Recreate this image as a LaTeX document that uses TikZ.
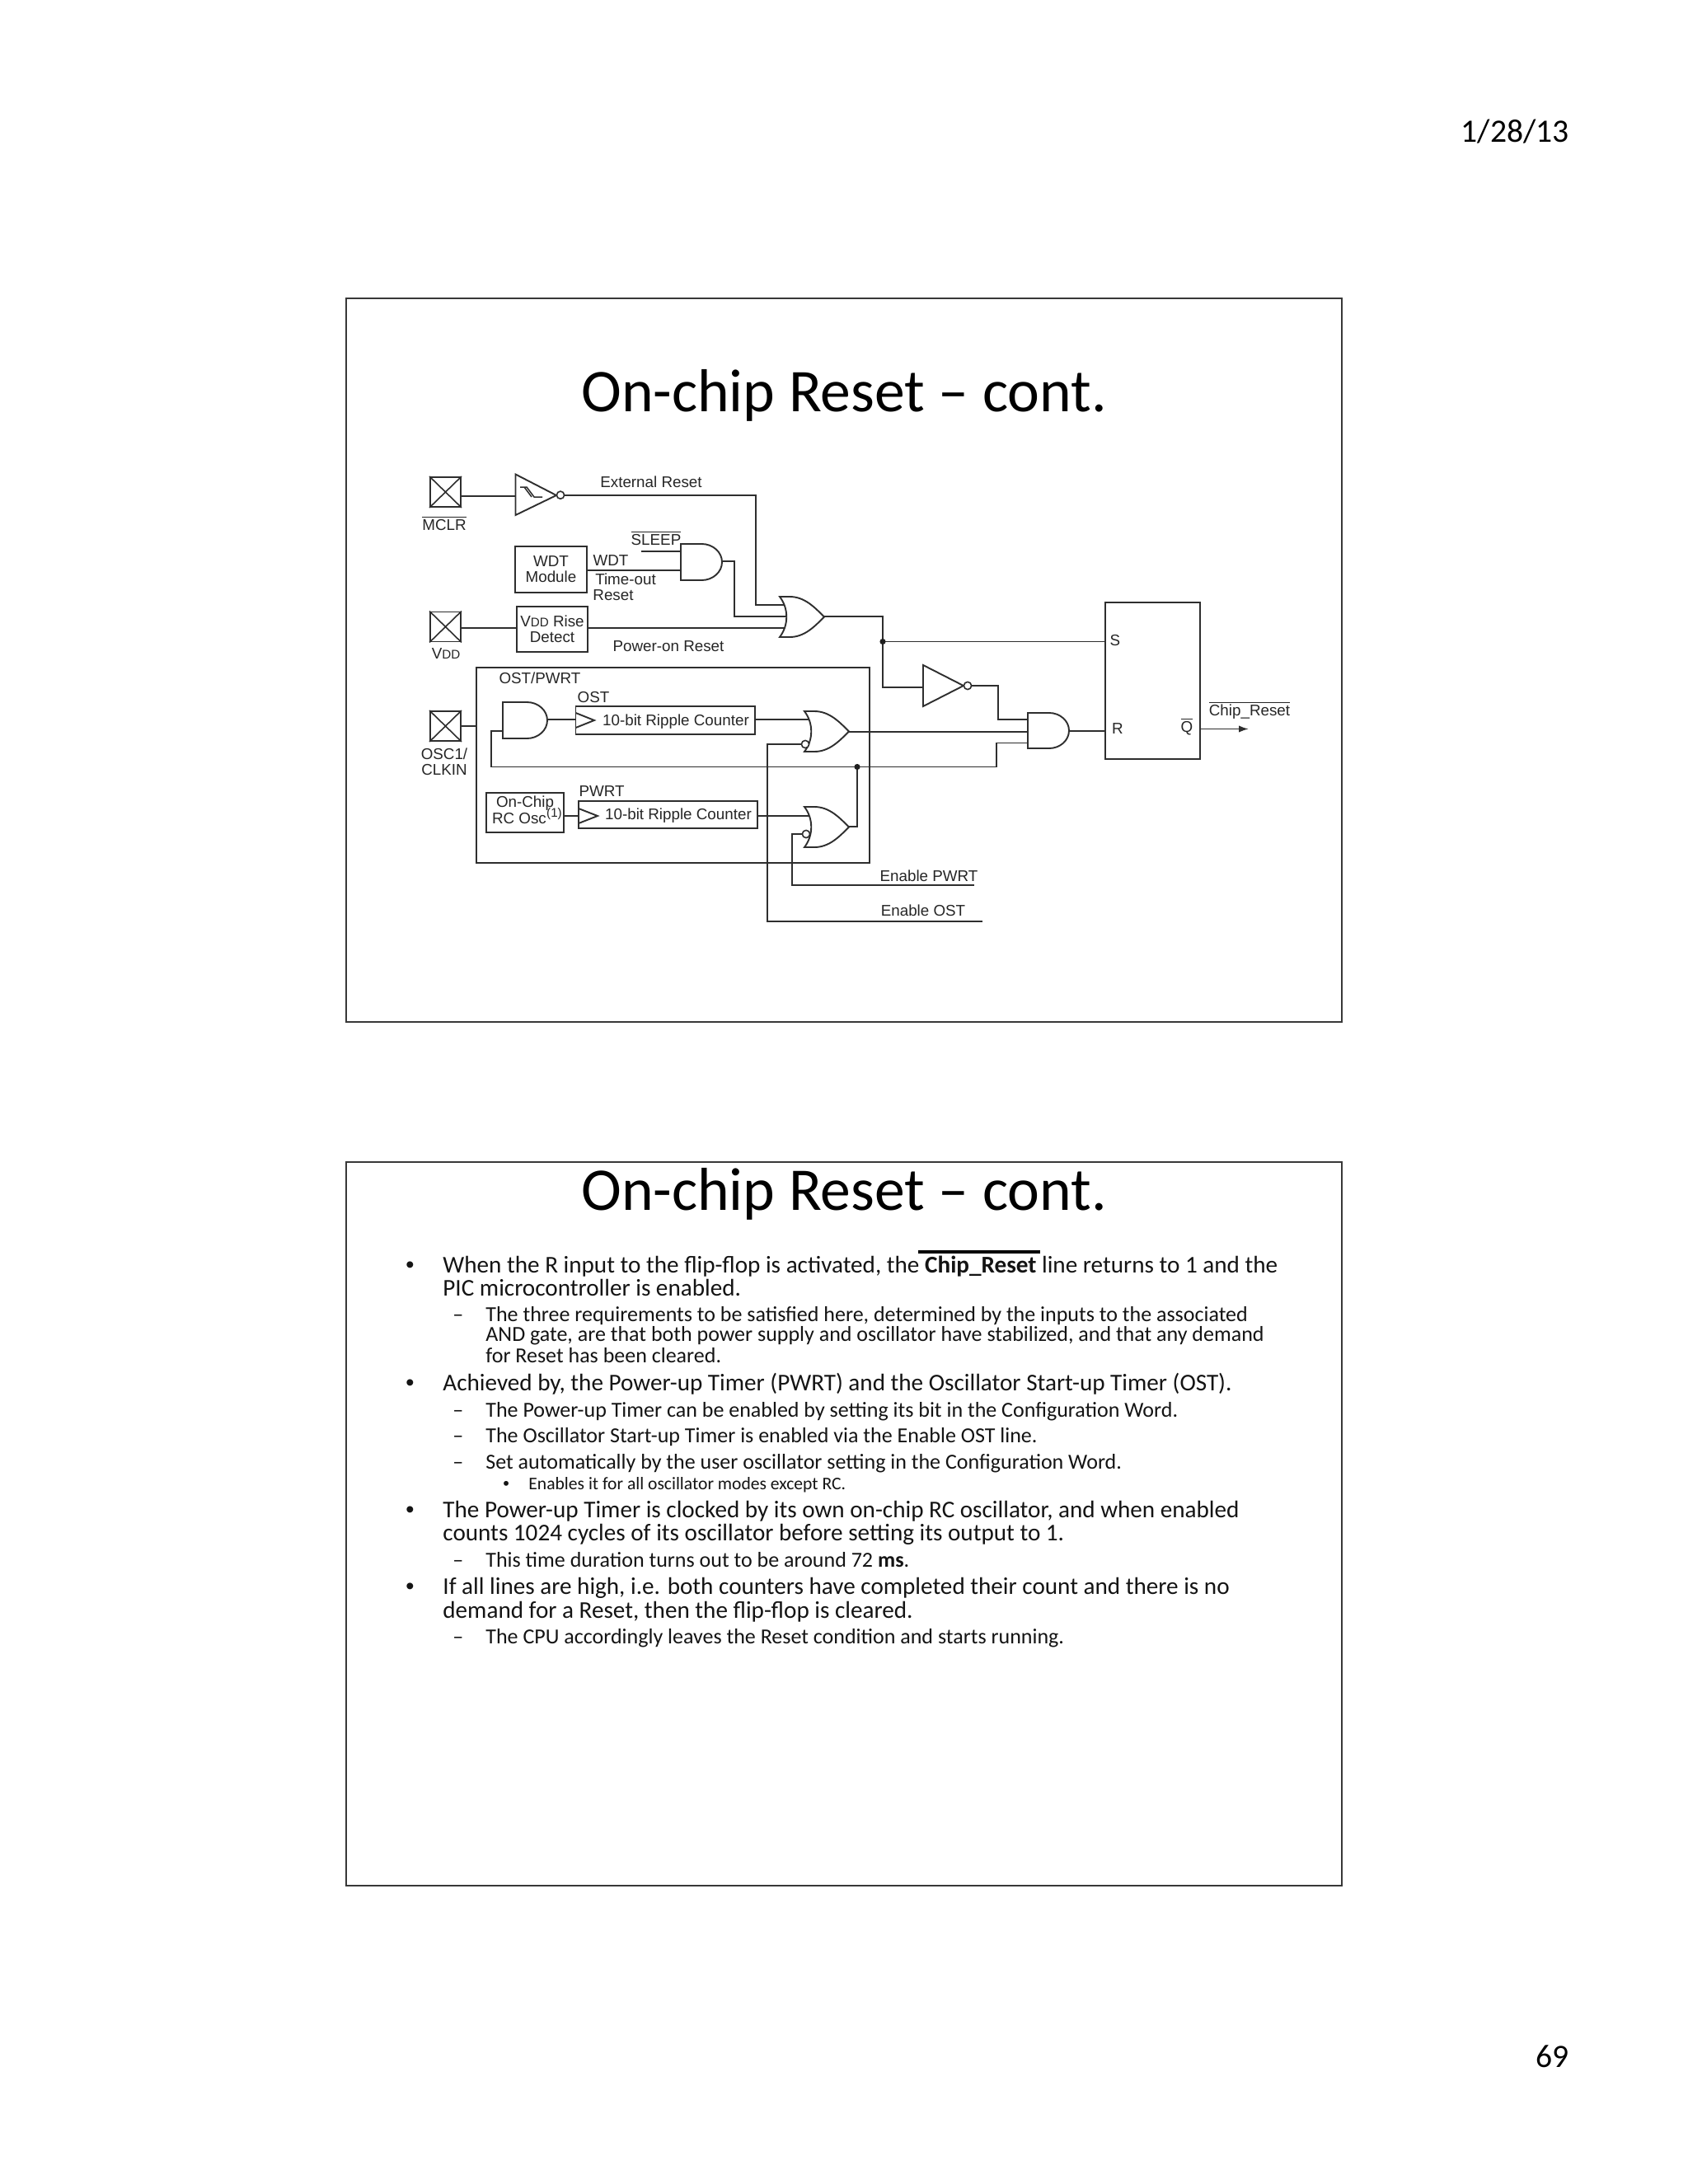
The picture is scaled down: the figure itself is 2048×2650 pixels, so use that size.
\documentclass[tikz,border=0pt]{standalone}
\usetikzlibrary{arrows.meta}
\usepackage{fontspec}
\setmainfont{Carlito}
\newfontfamily\hv{Liberation Sans}
\newcommand{\ovl}[1]{\ensuremath{\overline{\mbox{#1}}}}
\newcommand{\andgate}[4]{% x, ytop, ybot, xtip
  \pgfmathsetmacro{\ym}{(#2+#3)/2}\pgfmathsetmacro{\ry}{(#3-#2)/2}\pgfmathsetmacro{\xf}{#4-(#3-#2)*0.56}
  \draw[gate] (#1,#2) -- (\xf,#2) .. controls ({\xf+0.55*(#4-\xf)},#2) and (#4,{\ym-0.55*\ry}) .. (#4,\ym)
    .. controls (#4,{\ym+0.55*\ry}) and ({\xf+0.55*(#4-\xf)},#3) .. (\xf,#3) -- (#1,#3) -- cycle;}
\newcommand{\orgate}[4]{% xback, ytop, ybot, xtip
  \pgfmathsetmacro{\ym}{(#2+#3)/2}
  \draw[gate] (#1,#2) -- ({#1+12},#2) .. controls ({#1+30},#2) and ({#4-12},{\ym-12}) .. (#4,\ym)
    .. controls ({#4-12},{\ym+12}) and ({#1+30},#3) .. ({#1+12},#3) -- (#1,#3)
    .. controls ({#1+11},{\ym+10}) and ({#1+11},{\ym-10}) .. (#1,#2) -- cycle;}
\tikzset{
  wire/.style={line width=0.95pt,draw=black!82,line join=miter},
  gate/.style={wire,fill=white},
  frame/.style={draw=black!78,line width=1.2pt},
  lbl/.style={inner sep=0pt,text=black!85,font=\hv\fontsize{9.4}{9.4}\selectfont,align=center},
  boxn/.style={draw=black!82,line width=0.95pt,fill=white,inner sep=0pt,text=black!85,font=\hv\fontsize{9.4}{9.6}\selectfont,align=center},
  pad/.style={boxn,minimum width=18.5pt,minimum height=18pt},
  bubble/.style={circle,draw=black!82,line width=0.8pt,fill=white,inner sep=0pt,minimum size=4.6pt},
  jdot/.style={circle,fill=black!88,inner sep=0pt,minimum size=3.6pt},
  ttl/.style={inner sep=0pt,anchor=base,font=\fontsize{36.8}{40}\selectfont,text=black},
  pg/.style={inner sep=0pt,anchor=base east,font=\fontsize{19.8}{22}\selectfont,text=black},
  ma/.style={inner sep=0pt,anchor=base west,font=\fontsize{14.58}{15}\selectfont,text=black!92},
  su/.style={inner sep=0pt,anchor=base west,font=\fontsize{13}{13}\selectfont,text=black!92},
  ss/.style={inner sep=0pt,anchor=base west,font=\fontsize{10.8}{11}\selectfont,text=black!92},
}
\begin{document}
\begin{tikzpicture}[x=0.5pt,y=-0.5pt]
\useasboundingbox (0,0) rectangle (2048,2650);
\fill[white] (0,0) rectangle (2048,2650);
% page furniture
\node[pg] (date) at (1904,172) {1/28/13};
\node[pg] (pageno) at (1904,2508) {69};
\node[frame,minimum width=604pt,minimum height=439pt,inner sep=0pt] (slideA) at (1024,801) {};
\node[frame,minimum width=604pt,minimum height=439pt,inner sep=0pt] (slideB) at (1024,1849) {};
\node[ttl] (titleA) at (1024,499) {On-chip Reset – cont.};
\node[ttl] (titleB) at (1024,1468) {On-chip Reset – cont.};

% ---------- diagram: pins
\coordinate (bufin) at (625,602);
\coordinate (bufout) at (685,601);
\coordinate (or1a) at (955,734);
\coordinate (or1b) at (955,748);
\coordinate (or1c) at (955,762);
\coordinate (or1o) at (1000,748);
\coordinate (and1a) at (826,669);
\coordinate (and1b) at (826,692);
\coordinate (and1o) at (876,681);
\coordinate (sleepin) at (778,669);
\coordinate (jS) at (1071,778.5);
\coordinate (invin) at (1120,834);
\coordinate (invout) at (1179,832);
\coordinate (and2a) at (1250,873);
\coordinate (and2b) at (1250,888);
\coordinate (and2c) at (1250,901.5);
\coordinate (and2o) at (1297,887);
\coordinate (and3o) at (664,873);
\coordinate (and3b) at (612,887);
\coordinate (or2a) at (985,873);
\coordinate (or2o) at (1030,888);
\coordinate (or3a) at (985,990);
\coordinate (or3o) at (1030,1003);
\coordinate (eost) at (1192,1118);
\coordinate (epwrt) at (1182,1074);
\coordinate (qout) at (1515,884.5);

% ---------- boxes
\node[boxn,minimum width=238.5pt,minimum height=118.6pt] (ostbox) at (816.5,928.4) {};
\node[pad] (mclr) at (540.5,597) {};
\node[pad] (vdd) at (540.5,760.5) {};
\node[pad] (osc) at (540.5,881) {};
\foreach \p in {mclr,vdd,osc} {\draw[wire,line width=0.8pt] (\p.north west) -- (\p.south east) (\p.north east) -- (\p.south west);}
\node[boxn,minimum width=43.5pt,minimum height=28pt] (wdt) at (668.5,691) {WDT\\Module};
\node[boxn,minimum width=43pt,minimum height=27.5pt] (rise) at (670,763.5) {V{\fontsize{7.6}{9}\selectfont DD} Rise\\Detect};
\node[boxn,minimum width=47pt,minimum height=24pt] (rc) at (637,986) {};
\node[boxn,minimum width=108.75pt,minimum height=17pt] (c1) at (807.25,874) {};
\node[boxn,minimum width=108.5pt,minimum height=16.5pt] (c2) at (810.5,988.5) {};
\node[boxn,minimum width=57.4pt,minimum height=95.2pt] (ff) at (1398.4,825.8) {};

% ---------- connectors
\draw[wire] (mclr.east |- bufin) -- (bufin);
\draw[wire] (bufout) -| (917,734) -- (or1a);
\draw[wire] (wdt.east |- and1b) -- (and1b);
\draw[wire] (sleepin) -- (and1a);
\draw[wire] (and1o) -| (891,748) -- (or1b);
\draw[wire] (vdd.east |- or1c) -- (rise.west |- or1c);
\draw[wire] (rise.east |- or1c) -- (or1c);
\draw[wire] (or1o) -| (jS) |- (invin);
\draw[wire] (jS) -- (ff.west |- jS);
\draw[wire] (invout) -| (1211,873) -- (and2a);
\draw[wire] (or2o) -- (and2b);
\draw[wire] (osc.east) -- (osc.east -| ostbox.west);
\draw[wire] (and3b) -| (596,930.5) -- (1209,930.5) |- (and2c);
\draw[wire] (and3o) -- (c1.west |- and3o);
\draw[wire] (c1.east |- or2a) -- (or2a);
\draw[wire] (rc.east |- or3a) -- (c2.west |- or3a);
\draw[wire] (c2.east |- or3a) -- (or3a);
\draw[wire] (or3o) -| (1040,930.5);
\draw[wire] (eost) -| (931,903) -- (975,903);
\draw[wire] (epwrt) -| (961,1012) -- (975,1012);
\draw[wire] (and2o) -- (ff.west |- and2o);
\draw[wire,-{Latex[length=6pt,width=4.2pt]}] (ff.east |- qout) -- (qout);

% ---------- gates
\andgate{826}{660}{704}{876}
\andgate{610}{852}{896}{664}
\andgate{1247}{865}{908}{1297}
\orgate{946}{724}{773}{1000}
\orgate{976}{863}{912}{1030}
\orgate{976}{979}{1028}{1030}
\draw[gate] (625.5,575.5) -- (675,601) -- (625.5,625) -- cycle;
\draw[wire,line width=0.75pt] (631,591) -- (639,591) -- (648,603) -- (658,603) (636,591) -- (645,603);
\node[bubble] (bufb) at (680,600.7) {};
\draw[gate] (1120,807) -- (1169,832) -- (1120,857) -- cycle;
\node[bubble] (invb) at (1174,832) {};
\node[bubble] (or2b) at (977,903) {};
\node[bubble] (or3b) at (978,1012) {};
\draw[wire] (698.5,865) -- (721,874) -- (698.5,883);
\draw[wire] (702,981) -- (725,990) -- (702,999);
\node[jdot] (j1) at (jS) {};
\node[jdot] (j2) at (1040,930.5) {};

% ---------- diagram labels
\node[lbl] (tExt) at (790,585) {External Reset};
\node[lbl] (tMclr) at (539,635) {\ovl{MCLR}};
\node[lbl] (tSleep) at (796,653) {\ovl{SLEEP}};
\node[lbl] (tWdt) at (741,680) {WDT};
\node[lbl] (tTo) at (759,703) {Time-out};
\node[lbl] (tRe) at (744,722) {Reset};
\node[lbl] (tVdd) at (541,793) {V{\fontsize{7.6}{9}\selectfont DD}};
\node[lbl] (tPor) at (811,784) {Power-on Reset};
\node[lbl] (tOstp) at (655,823) {OST/PWRT};
\node[lbl] (tOst) at (720,846) {OST};
\node[lbl] (tCk) at (539,924) {OSC1/\\CLKIN};
\node[lbl] (tC1) at (820,875.5) {10-bit Ripple Counter};
\node[lbl] (tPw) at (730,960) {PWRT};
\node[lbl] (tC2) at (823,990) {10-bit Ripple Counter};
\node[lbl] (tRc1) at (637,975) {On-Chip};
\node[lbl] (tRc2) at (630,993) {RC Osc};
\node[lbl] (tRc3) at (672.5,988) {\fontsize{7.6}{9}\selectfont (1)};
\node[lbl] (tS) at (1353,777) {S};
\node[lbl] (tR) at (1356,884) {R};
\node[lbl] (tQ) at (1440,881.5) {\ovl{Q}};
\node[lbl] (tChip) at (1516,862) {\ovl{Chip\_Reset}};
\node[lbl] (tEp) at (1127,1063) {Enable PWRT};
\node[lbl] (tEo) at (1120,1105) {Enable OST};

% ---------- bullet text
\foreach \n/\y in {a/1544,b/1687,c/1841,d/1934} {\node[ma,font=\hv\fontsize{14.5}{15}\selectfont] (bu\n) at (492,\y) {•};}
\foreach \n/\y in {a/1603,b/1719,c/1750,d/1782,e/1901,f/1994} {\node[su] (da\n) at (549,\y) {–};}
\node[ss,font=\hv\fontsize{10.8}{11}\selectfont] (bue) at (610,1807) {•};
\node[ma] (m1) at (537,1544) {When the R input to the flip-flop is activated, the \textbf{Chip\_Reset} line returns to 1 and the};
\node[ma] (m2) at (537,1572) {PIC microcontroller is enabled.};
\node[su] (s1) at (589,1603) {The three requirements to be satisfied here, determined by the inputs to the associated};
\node[su] (s2) at (589,1627) {AND gate, are that both power supply and oscillator have stabilized, and that any demand};
\node[su] (s3) at (589,1653) {for Reset has been cleared.};
\node[ma] (m3) at (537,1687) {Achieved by, the Power-up Timer (PWRT) and the Oscillator Start-up Timer (OST).};
\node[su] (s4) at (589,1719) {The Power-up Timer can be enabled by setting its bit in the Configuration Word.};
\node[su] (s5) at (589,1750) {The Oscillator Start-up Timer is enabled via the Enable OST line.};
\node[su] (s6) at (589,1782) {Set automatically by the user oscillator setting in the Configuration Word.};
\node[ss] (t1) at (641,1807) {Enables it for all oscillator modes except RC.};
\node[ma] (m4) at (537,1841) {The Power-up Timer is clocked by its own on-chip RC oscillator, and when enabled};
\node[ma] (m5) at (537,1869) {counts 1024 cycles of its oscillator before setting its output to 1.};
\node[su] (s7) at (589,1901) {This time duration turns out to be around 72 \textbf{ms}.};
\node[ma] (m6) at (537,1934) {If all lines are high, i.e. both counters have completed their count and there is no};
\node[ma] (m7) at (537,1963) {demand for a Reset, then the flip-flop is cleared.};
\node[su] (s8) at (589,1994) {The CPU accordingly leaves the Reset condition and starts running.};
\draw[black,line width=2pt] (1114,1519) -- (1262,1519);
\end{tikzpicture}
\end{document}
